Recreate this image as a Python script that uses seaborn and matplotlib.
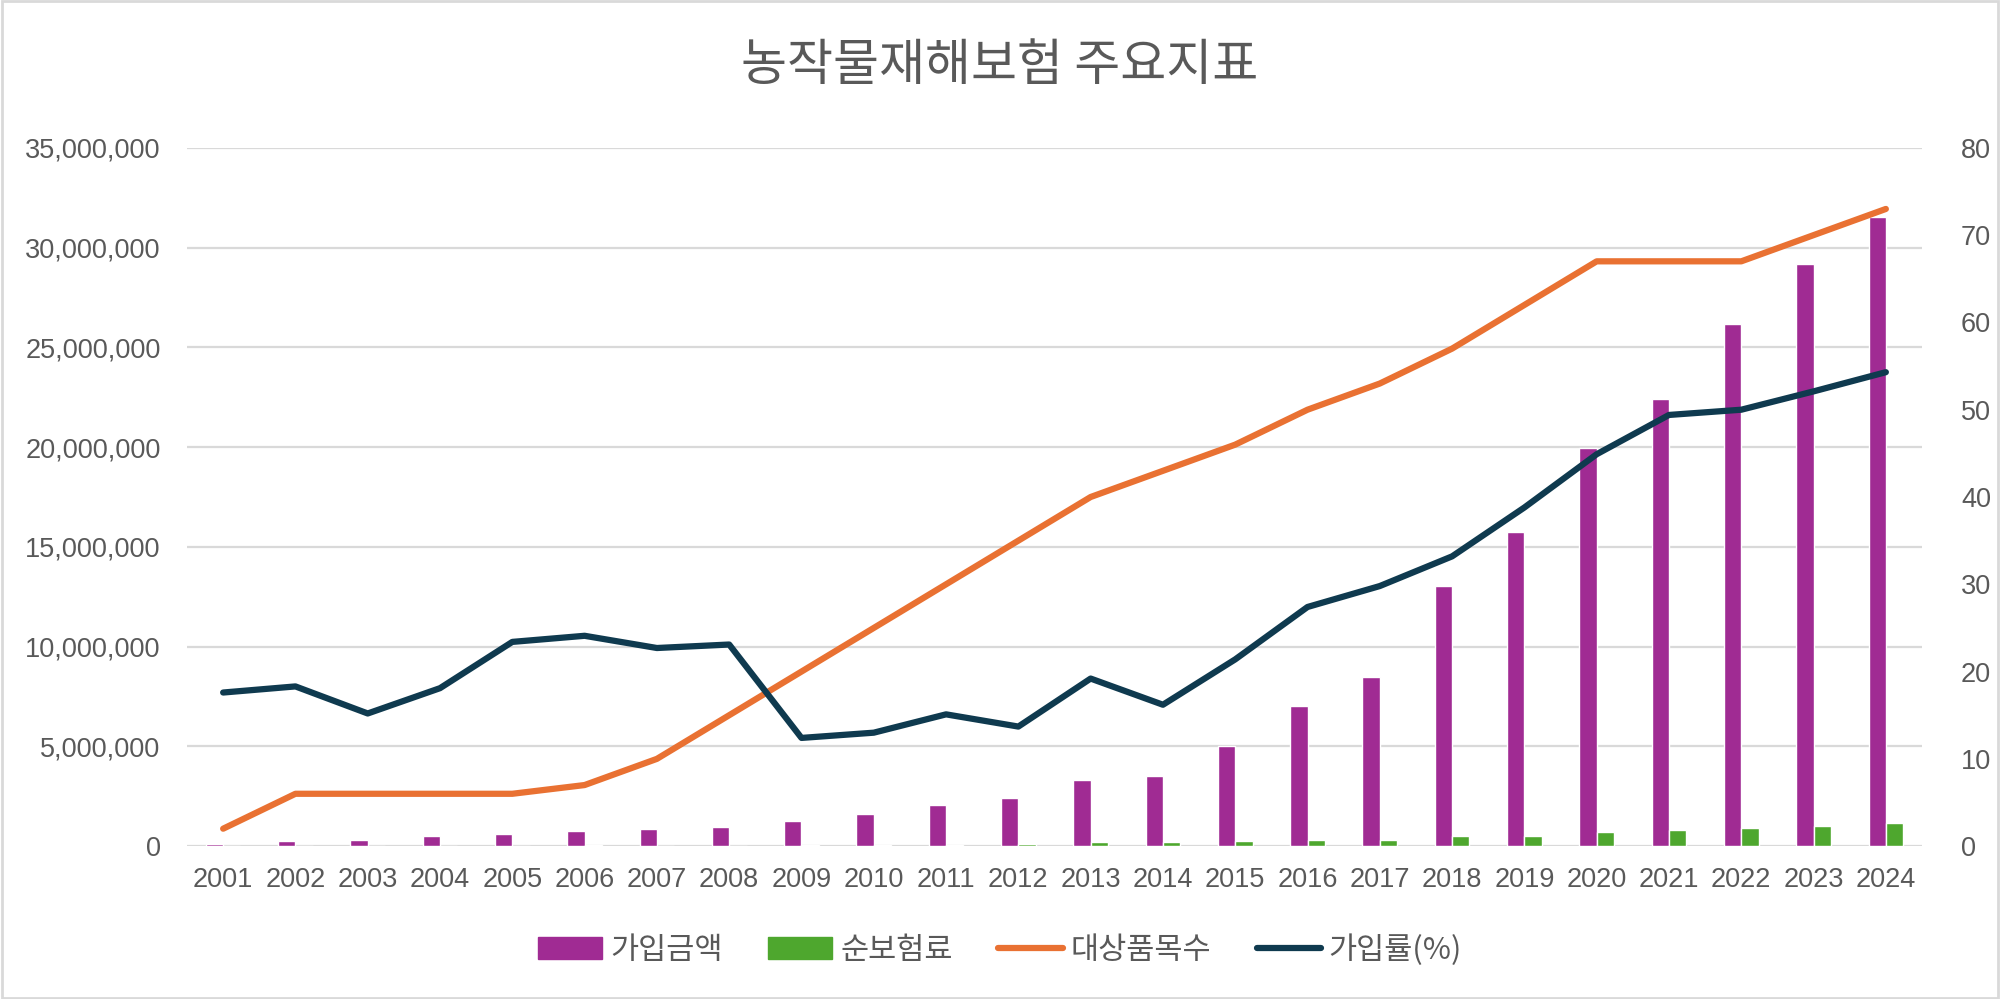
import numpy as np
import pandas as pd
import matplotlib
matplotlib.use('Agg')
import matplotlib.pyplot as plt
import matplotlib.ticker as mticker
from matplotlib.patches import Patch, Rectangle
from matplotlib.lines import Line2D
import seaborn as sns

# Data
years = [str(y) for y in range(2001, 2025)]
coverage = [85000, 235000, 285000, 485000, 600000, 735000, 870000, 935000,
            1250000, 1620000, 2040000, 2420000, 3330000, 3510000, 5000000,
            7020000, 8480000, 13040000, 15740000, 19960000, 22400000,
            26170000, 29180000, 31550000]
premium = [5000, 10000, 12000, 15000, 18000, 50000, 20000, 22000,
           50000, 50000, 80000, 120000, 200000, 200000, 280000, 320000,
           320000, 520000, 490000, 700000, 820000, 920000, 1020000, 1140000]
items = [2, 6, 6, 6, 6, 7, 10, 15, 20, 25, 30, 35, 40, 43, 46, 50, 53,
         57, 62, 67, 67, 67, 70, 73]
rate = [17.6, 18.3, 15.2, 18.1, 23.4, 24.1, 22.7, 23.1, 12.4, 13.0, 15.1,
        13.7, 19.2, 16.2, 21.4, 27.4, 29.8, 33.2, 38.8, 44.9, 49.4, 50.0,
        52.1, 54.3]

names = ['가입금액', '순보험료', '대상품목수', '가입률(%)']
colors = {'가입금액': '#A02B93', '순보험료': '#4EA72E',
          '대상품목수': '#E97132', '가입률(%)': '#0F3A4F'}

bars = pd.DataFrame({
    'year': years * 2,
    'series': [names[0]] * len(years) + [names[1]] * len(years),
    'value': coverage + premium,
})

sns.set_theme(style='white')
plt.rcParams['font.family'] = ['Noto Sans CJK KR', 'DejaVu Sans']
text_color = '#595959'
num_font = ['Liberation Sans', 'DejaVu Sans']

fig = plt.figure(figsize=(20, 9.99), dpi=100)
ax = fig.add_axes([0.0935, 0.153, 0.8675, 0.699])

sns.barplot(data=bars, x='year', y='value', hue='series',
            hue_order=names[:2], palette=colors, width=0.48,
            saturation=1, dodge=True, legend=False, ax=ax, zorder=2)
ax.set_ylim(0, 35000000)
ax.yaxis.set_major_locator(mticker.MultipleLocator(5000000))
ax.yaxis.set_major_formatter(mticker.FuncFormatter(lambda v, p: f'{int(v):,}'))
ax.grid(axis='y', color='#D9D9D9', linewidth=1.6, zorder=0)
ax.set_axisbelow(True)
ax.set_xlabel('')
ax.set_ylabel('')

ax2 = ax.twinx()
sns.pointplot(x=years, y=items, color=colors['대상품목수'], markers='',
              linewidth=4.5, errorbar=None, ax=ax2)
sns.pointplot(x=years, y=rate, color=colors['가입률(%)'], markers='',
              linewidth=4.5, errorbar=None, ax=ax2)
for ln in ax2.lines:
    ln.set_solid_capstyle('round')
    ln.set_solid_joinstyle('round')
ax2.set_ylim(0, 80)
ax2.yaxis.set_major_locator(mticker.MultipleLocator(10))
ax2.grid(False)
ax2.set_xlabel('')
ax2.set_ylabel('')
ax.set_xlim(-0.5, len(years) - 0.5)

for a in (ax, ax2):
    for s in a.spines.values():
        s.set_visible(False)
    a.tick_params(axis='both', length=0, labelsize=19.5, colors=text_color)
    for lab in a.get_xticklabels() + a.get_yticklabels():
        lab.set_family(num_font)
ax.tick_params(axis='y', pad=19)
ax2.tick_params(axis='y', pad=28)
ax.tick_params(axis='x', pad=15)

fig.text(0.5, 0.934, '농작물재해보험 주요지표', ha='center', va='center',
         fontsize=36, color=text_color)

handles = [Patch(color=colors[names[0]]), Patch(color=colors[names[1]]),
           Line2D([], [], color=colors[names[2]], lw=4.5, solid_capstyle='round'),
           Line2D([], [], color=colors[names[3]], lw=4.5, solid_capstyle='round')]
fig.legend(handles, names, loc='center', bbox_to_anchor=(0.5, 0.049),
           ncol=4, frameon=False, fontsize=22, handlelength=2.1,
           handleheight=0.7, handletextpad=0.25, columnspacing=1.5,
           labelcolor=text_color)

fig.patches.append(Rectangle((0.001, 0.001), 0.998, 0.998, transform=fig.transFigure,
                             fill=False, edgecolor='#D9D9D9', linewidth=2))

plt.savefig('out.png', dpi=100)
plt.close()
